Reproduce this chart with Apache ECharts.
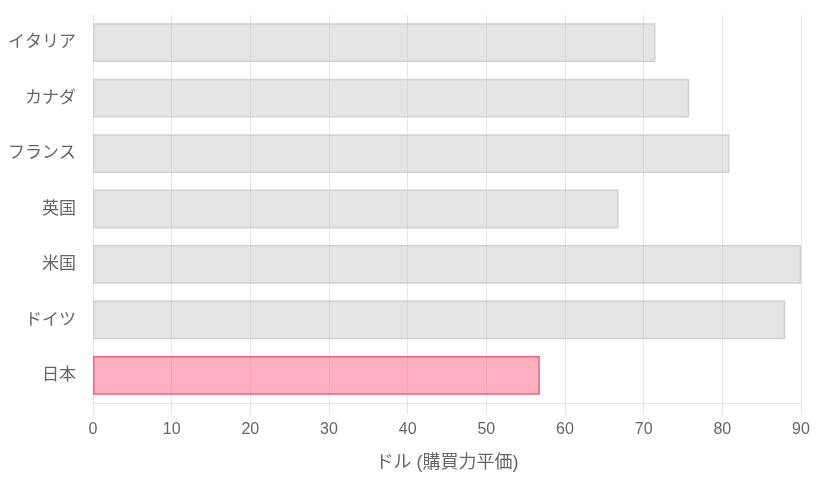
<!DOCTYPE html>
<html><head><meta charset="utf-8">
<script src="https://cdn.jsdelivr.net/npm/echarts@6/dist/echarts.min.js"></script>
<style>html,body{margin:0;padding:0;background:#fff}#c{width:816px;height:480px}</style>
</head><body><div id="c"></div>
<script>
const categories = ['イタリア','カナダ','フランス','英国','米国','ドイツ','日本'];
const values = [71.5, 75.8, 80.9, 66.8, 90.0, 88.0, 56.8];
const highlight = '日本';
const xTicks = [0,10,20,30,40,50,60,70,80,90];
const axisTitle = 'ドル (購買力平価)';

const FONT = '"Liberation Sans", "Noto Sans CJK JP", sans-serif';
const chart = echarts.init(document.getElementById('c'), null, {renderer:'canvas'});
chart.setOption({
  animation:false,
  grid:{left:93, right:15, top:15, bottom:77, containLabel:false},
  xAxis:{
    type:'value', min:xTicks[0], max:xTicks[xTicks.length-1], interval:10,
    name:axisTitle, nameLocation:'middle', nameGap:51,
    nameTextStyle:{color:'#666', fontSize:18, fontFamily:FONT},
    axisLine:{show:true, lineStyle:{color:'#e5e5e5', width:1}},
    axisTick:{show:true, length:11, lineStyle:{color:'#e5e5e5'}},
    splitLine:{show:true, lineStyle:{color:'#e5e5e5', width:1}},
    axisLabel:{color:'#666', fontSize:16, fontFamily:FONT, margin:19}
  },
  yAxis:{
    type:'category', data:categories, inverse:true,
    axisLine:{show:true, onZero:false, lineStyle:{color:'#e5e5e5', width:1}},
    axisTick:{show:false},
    splitLine:{show:false},
    axisLabel:{color:'#666', fontSize:17, fontFamily:FONT, margin:17}
  },
  series:[{
    type:'bar', barCategoryGap:'30%',
    data: values.map((v,i)=>({
      value:v,
      itemStyle: categories[i]===highlight
        ? {color:'rgba(255,99,132,0.5)', borderColor:'rgb(240,98,128)', borderWidth:1.5}
        : {color:'rgba(201,203,207,0.5)', borderColor:'rgb(208,209,212)', borderWidth:1.5}
    }))
  }]
});
</script></body></html>
